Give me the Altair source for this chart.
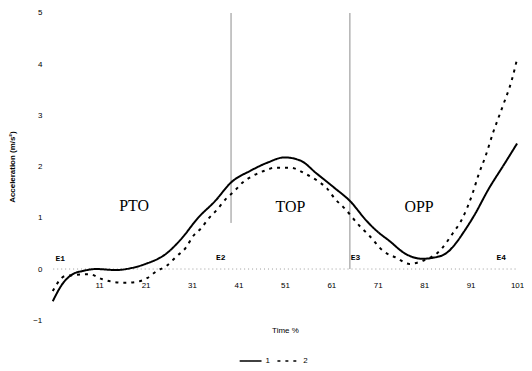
import altair as alt
import pandas as pd

# Solid series ("1")
solid_x = [1, 3.1, 5.3, 7.4, 10.4, 14.6, 18, 21, 25.3, 28.7, 32.3, 36, 39.4, 43.6, 47.3, 50.9,
           54.3, 57.9, 61.6, 65, 68.6, 70.7, 73.5, 77.1, 80.7, 82.9, 85.6, 87.8, 89.5, 91.8,
           94.8, 98.4, 101]
solid_y = [-0.63, -0.29, -0.1, -0.04, 0.0, -0.02, 0.02, 0.1, 0.29, 0.59, 1.0, 1.33, 1.69, 1.92,
           2.08, 2.18, 2.12, 1.86, 1.59, 1.33, 0.94, 0.75, 0.55, 0.29, 0.2, 0.22, 0.3, 0.5, 0.72,
           1.05, 1.55, 2.07, 2.45]

# Dashed series ("2")
dashed_x = [1, 3.6, 8.9, 11.7, 16.4, 19.1, 21.3, 23.4, 25.5, 27.7, 29.6, 31.3, 33, 34.5, 36.2,
            38.3, 40.2, 41.9, 44.1, 46.6, 49, 52.2, 55.4, 57.9, 60.1, 61.8, 63.9, 67.1, 69.2,
            72.2, 75, 77.8, 80.7, 84.5, 87.1, 89.3, 91.4, 92.7, 94.2, 95.9, 98, 99.9, 101]
dashed_y = [-0.43, -0.14, -0.1, -0.2, -0.27, -0.25, -0.18, -0.04, 0.06, 0.25, 0.41, 0.65, 0.8,
            0.98, 1.14, 1.37, 1.53, 1.69, 1.82, 1.92, 1.98, 1.98, 1.86, 1.73, 1.57, 1.37, 1.18,
            0.84, 0.65, 0.35, 0.22, 0.1, 0.16, 0.37, 0.69, 1.0, 1.47, 1.84, 2.2, 2.68, 3.2,
            3.7, 4.1]

series_names = ["1", "2"]

x_ticks = [11, 21, 31, 41, 51, 61, 71, 81, 91, 101]
y_ticks = [-1, 0, 1, 2, 3, 4, 5]

# Phase boundary lines
vline_x = [39.4, 65]
vline_y0 = [0.9, 0]
vline_y1 = [5, 5]

# Phase labels
phase_text = ["PTO", "TOP", "OPP"]
phase_x = [18.5, 52.2, 79.9]
phase_y = [1.24, 1.22, 1.22]

# Event labels
event_text = ["E1", "E2", "E3", "E4"]
event_x = [2.6, 37.2, 66.2, 97.6]
event_y = [0.2, 0.22, 0.22, 0.22]

lines_df = pd.concat([
    pd.DataFrame({"t": solid_x, "v": solid_y, "s": series_names[0], "o": range(len(solid_x))}),
    pd.DataFrame({"t": dashed_x, "v": dashed_y, "s": series_names[1], "o": range(len(dashed_x))}),
])
vl_df = pd.DataFrame({"t": vline_x, "a": vline_y0, "b": vline_y1})
ph_df = pd.DataFrame({"t": phase_x, "v": phase_y, "txt": phase_text})
ev_df = pd.DataFrame({"t": event_x, "v": event_y, "txt": event_text})

xscale = alt.Scale(domain=[1, 101], nice=False, zero=False)
yscale = alt.Scale(domain=[-1, 5], nice=False, zero=False)

xaxis = alt.Axis(values=x_ticks, title="Time %", offset=-52, grid=False, ticks=False,
                 domain=True, domainColor="#9a9a9a", domainDash=[1, 3], domainWidth=1,
                 labelFontSize=8, labelColor="black", labelFont="Liberation Sans",
                 labelPadding=13, titleFontSize=8, titleFont="Liberation Sans",
                 titleFontWeight="normal", titleColor="black", titlePadding=37,
                 labelFlush=False)
yaxis = alt.Axis(values=y_ticks, title="Acceleration (m/s²)", grid=False, ticks=False,
                 domain=False, labelFontSize=8, labelColor="black",
                 labelFont="Liberation Sans", labelPadding=11, titleFontSize=8,
                 titleFont="Liberation Sans", titleFontWeight="bold", titleColor="black",
                 titlePadding=16)

lines = alt.Chart(lines_df).mark_line(color="black", strokeWidth=2, interpolate="monotone").encode(
    x=alt.X("t:Q", scale=xscale, axis=xaxis),
    y=alt.Y("v:Q", scale=yscale, axis=yaxis),
    order="o:Q",
    strokeDash=alt.StrokeDash(
        "s:N",
        scale=alt.Scale(domain=series_names, range=[[1, 0], [3, 5]]),
        legend=alt.Legend(title=None, orient="none", direction="horizontal",
                          legendX=187, legendY=338, symbolType="stroke",
                          symbolSize=484, symbolStrokeWidth=1.5,
                          symbolStrokeColor="black", labelFontSize=8,
                          labelFont="Liberation Sans", labelColor="black",
                          columnPadding=4, labelOffset=3),
    ),
)

vlines = alt.Chart(vl_df).mark_rule(color="#8c8c8c", strokeWidth=1).encode(
    x="t:Q", y="a:Q", y2="b:Q"
)

phases = alt.Chart(ph_df).mark_text(font="Liberation Serif", fontSize=16, color="black").encode(
    x="t:Q", y="v:Q", text="txt:N"
)

events = alt.Chart(ev_df).mark_text(font="Liberation Mono", fontSize=8, fontWeight="bold",
                                    color="black").encode(
    x="t:Q", y="v:Q", text="txt:N"
)

chart = alt.layer(vlines, lines, phases, events).properties(
    width=467, height=309,
    padding={"left": 0, "top": 0, "right": 0, "bottom": 0},
    background="white",
).configure_view(stroke=None)

chart.save("out.html", embed_options={"renderer": "svg", "actions": False})
